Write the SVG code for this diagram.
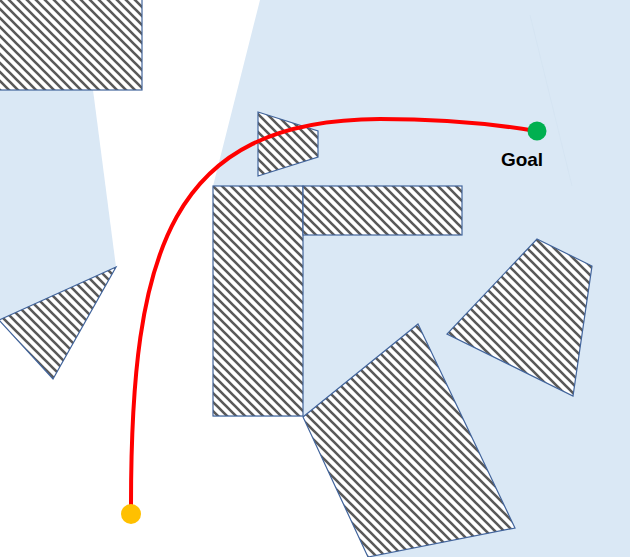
<svg xmlns="http://www.w3.org/2000/svg" width="630" height="557" viewBox="0 0 630 557">
  <defs>
    <pattern id="hatch" patternUnits="userSpaceOnUse" width="9" height="9">
      <rect width="9" height="9" fill="#ffffff"/>
      <path d="M-2,-2 L11,11 M-2,7 L2,11 M7,-2 L11,2" stroke="#595959" stroke-width="2.6"/>
    </pattern>
  </defs>
  <style>
    .free { fill: #DAE8F5; stroke: none; }
    .obst { fill: url(#hatch); stroke: #41649C; stroke-width: 1.2; stroke-linejoin: miter; }
    .path { fill: none; stroke: #FF0000; stroke-width: 4; stroke-linecap: round; }
    .label { font-family: "Liberation Sans", Arial, sans-serif; font-weight: bold; font-size: 19px; fill: #000000; }
  </style>
  <rect width="630" height="557" fill="#ffffff"/>
  <g id="free-space">
    <polygon class="free" points="260,0 630,0 630,557 368,557 303,417 213,417 213,186"/>
    <polygon class="free" points="0,90 93,90 116,267 0,320"/>
    <line x1="530" y1="15" x2="572" y2="186" stroke="#D3E2F0" stroke-width="0.7"/>
  </g>
  <g id="obstacles">
    <rect id="obst-topleft" class="obst" x="-2" y="-2" width="144" height="92"/>
    <polygon id="obst-small" class="obst" points="258,112 318,131 318,157 258,176"/>
    <rect id="obst-L-vertical" class="obst" x="213" y="186" width="90" height="230"/>
    <rect id="obst-L-horizontal" class="obst" x="303" y="186" width="159" height="49"/>
    <polygon id="obst-triangle" class="obst" points="116,267 -1,320 53,379"/>
    <polygon id="obst-right" class="obst" points="537,239 592,266 573,396 447,334"/>
    <polygon id="obst-big" class="obst" points="418,324 515,528 368,557 303,417"/>
  </g>
  <g id="connectors">
    <path class="path" d="M131,505 C131,250 170,120 380,119 C450,119 500,125 536,131"/>
  </g>
  <g id="start">
    <circle cx="131" cy="514" r="10" fill="#FFC000"/>
  </g>
  <g id="goal">
    <circle cx="537" cy="131" r="9.5" fill="#00B050"/>
    <text class="label" x="522" y="166" text-anchor="middle">Goal</text>
  </g>
</svg>
